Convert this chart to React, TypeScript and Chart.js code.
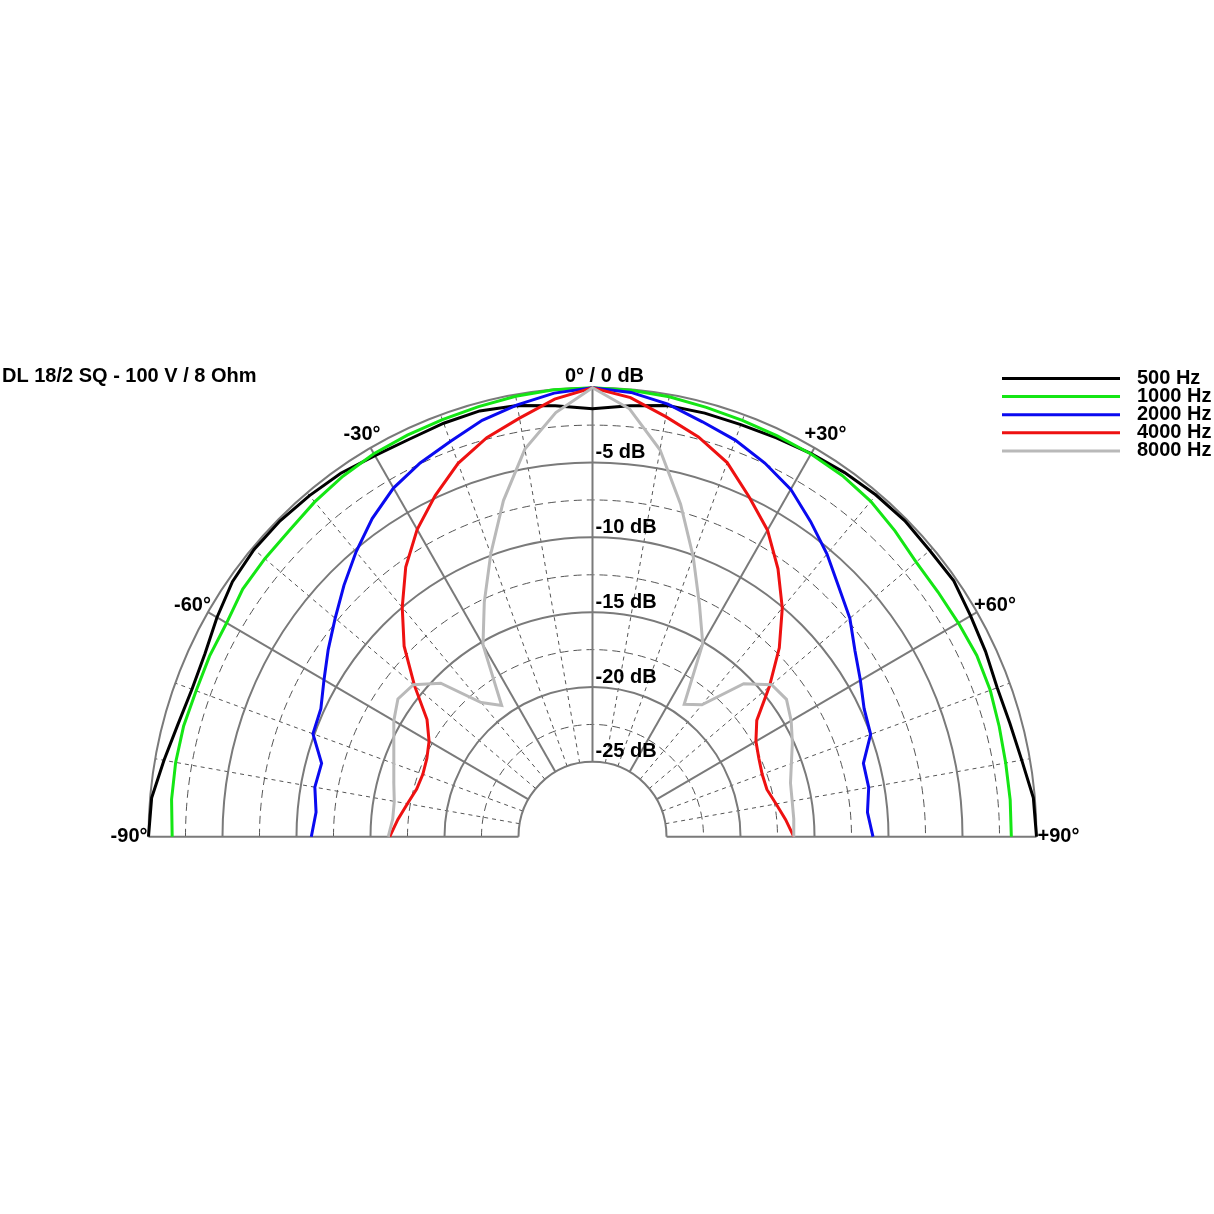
import { useEffect, useRef } from 'react';
import { Chart, registerables } from 'chart.js';

Chart.register(...registerables);

// measurement angles (degrees off axis) and level in dB, relative to 0 deg
const angles = [
  -90, -85, -80, -75, -70, -65, -60, -55, -50, -45, -40, -35, -30, -25, -20, -15, -10, -5, 0,
  5, 10, 15, 20, 25, 30, 35, 40, 45, 50, 55, 60, 65, 70, 75, 80, 85, 90,
];

const hz500 = [
  0, -0.1, -0.6, -1.0, -1.2, -1.1, -0.7, -0.3, -0.15, -0.15, -0.25, -0.35, -0.6, -0.7, -0.6, -0.55, -0.75, -1.1, -1.4,
  -1.1, -0.75, -0.7, -0.7, -0.6, -0.45, -0.3, -0.2, -0.15, -0.25, -0.2, -0.5, -0.7, -0.9, -0.8, -0.55, -0.1, 0,
];
const hz1000 = [
  -1.6, -1.45, -1.4, -1.4, -1.5, -1.45, -1.45, -1.15, -1.1, -1.05, -0.8, -0.6, -0.45, -0.4, -0.35, -0.25, -0.12, -0.03, 0,
  -0.05, -0.15, -0.3, -0.4, -0.45, -0.47, -0.55, -0.75, -1.1, -1.45, -1.5, -1.45, -1.35, -1.4, -1.55, -1.65, -1.67, -1.7,
];
const hz2000 = [
  -11.0, -11.25, -10.95, -11.05, -9.9, -9.75, -9.05, -8.2, -7.3, -6.25, -5.15, -4.05, -3.1, -2.45, -1.9, -1.2, -0.7, -0.25, 0,
  -0.2, -0.65, -1.3, -1.8, -2.45, -3.2, -4.3, -5.35, -6.45, -7.3, -8.35, -9.1, -9.75, -10.0, -11.05, -11.05, -11.35, -11.05,
];
const hz4000 = [
  -16.3, -16.8, -17.3, -17.7, -17.8, -17.65, -17.25, -16.35, -14.3, -12.0, -10.0, -8.0, -6.3, -4.85, -3.45, -2.4, -1.6, -0.65, 0,
  -0.55, -1.5, -2.35, -3.4, -4.95, -6.35, -8.15, -10.05, -12.15, -14.4, -16.45, -17.25, -17.6, -17.8, -17.8, -17.4, -16.9, -16.4,
];
const hz8000 = [
  -16.2, -16.45, -16.4, -16.1, -15.7, -15.2, -14.5, -13.95, -14.2, -15.5, -18.3, -19.3, -15.2, -12.7, -9.9, -6.75, -3.7, -1.55, 0,
  -1.3, -3.75, -7.0, -10.1, -12.9, -15.1, -19.2, -18.5, -15.55, -14.2, -14.0, -14.5, -15.1, -15.7, -16.15, -16.3, -16.35, -16.4,
];

const seriesNames = ['500 Hz', '1000 Hz', '2000 Hz', '4000 Hz', '8000 Hz'];
const seriesColors = ['#000000', '#14e614', '#0a0af0', '#ee1111', '#b9b9b9'];
const dbTicks = [-5, -10, -15, -20, -25];
const angleTicks = [-90, -60, -30, 30, 60, 90];

const title = 'DL 18/2 SQ - 100 V / 8 Ohm';
const FLOOR = -30; // level at the centre of the plot
const HOLE = -25; // nothing is drawn below this level
const FONT = 'bold 20px Arial, "Liberation Sans", Helvetica, sans-serif';

const toPoint = (deg: number, db: number) => {
  const r = db - FLOOR;
  const a = (deg * Math.PI) / 180;
  return { x: r * Math.sin(a), y: r * Math.cos(a) };
};

// draws the half-circle grid using the chart's own x/y scales
const polarGrid = {
  id: 'polarGrid',
  beforeDatasetsDraw(chart: any) {
    const { ctx } = chart;
    const xs = chart.scales.x;
    const ys = chart.scales.y;
    const cx = xs.getPixelForValue(0);
    const cy = ys.getPixelForValue(0);
    const kx = xs.getPixelForValue(1) - cx;
    const ky = cy - ys.getPixelForValue(1);
    const rIn = HOLE - FLOOR;
    const rOut = 0 - FLOOR;

    const ring = (db: number) => {
      const r = db - FLOOR;
      ctx.beginPath();
      ctx.ellipse(cx, cy, r * kx, r * ky, 0, Math.PI, 2 * Math.PI);
      ctx.stroke();
    };
    const spoke = (deg: number) => {
      const a = (deg * Math.PI) / 180;
      ctx.beginPath();
      ctx.moveTo(cx + rIn * Math.sin(a) * kx, cy - rIn * Math.cos(a) * ky);
      ctx.lineTo(cx + rOut * Math.sin(a) * kx, cy - rOut * Math.cos(a) * ky);
      ctx.stroke();
    };

    ctx.save();
    ctx.strokeStyle = '#555555';
    ctx.lineWidth = 1;
    ctx.setLineDash([8, 5]);
    for (let db = -2.5; db > HOLE; db -= 5) ring(db);
    ctx.setLineDash([4, 4]);
    for (let deg = -80; deg <= 80; deg += 10) {
      if (deg % 30 !== 0) spoke(deg);
    }
    ctx.setLineDash([]);
    ctx.strokeStyle = '#7a7a7a';
    ctx.lineWidth = 2;
    for (let db = 0; db >= HOLE; db -= 5) ring(db);
    [-90, -60, -30, 0, 30, 60, 90].forEach(spoke);
    ctx.restore();
  },
  afterDatasetsDraw(chart: any) {
    const { ctx } = chart;
    const xs = chart.scales.x;
    const ys = chart.scales.y;
    const cx = xs.getPixelForValue(0);
    const top = ys.getPixelForValue(0 - FLOOR);

    ctx.save();
    ctx.font = FONT;
    ctx.fillStyle = '#000';
    ctx.textBaseline = 'middle';

    ctx.textAlign = 'left';
    ctx.fillText(title, 2, top - 11);

    ctx.textAlign = 'center';
    ctx.fillText('0° / 0 dB', cx + 12, top - 11);

    ctx.textAlign = 'left';
    dbTicks.forEach((db) => {
      ctx.fillText(`${db} dB`, cx + 3, ys.getPixelForValue(db - FLOOR) - 10);
    });

    angleTicks.forEach((deg) => {
      const p = toPoint(deg, 0);
      const px = xs.getPixelForValue(p.x);
      const py = ys.getPixelForValue(p.y);
      const text = deg > 0 ? `+${deg}°` : `${deg}°`;
      const side = deg < 0 ? -1 : 1;
      ctx.textAlign = deg < 0 ? 'right' : 'left';
      let dx = 1;
      let dy = 0;
      if (Math.abs(deg) === 60) { dx = -3; dy = -7; }
      if (Math.abs(deg) === 30) { dx = -10; dy = -13; }
      ctx.fillText(text, px + side * dx, py + dy);
    });

    // legend
    seriesNames.forEach((name, i) => {
      const y = 378.5 + i * 18.1;
      ctx.strokeStyle = seriesColors[i];
      ctx.lineWidth = 3;
      ctx.beginPath();
      ctx.moveTo(1002, y);
      ctx.lineTo(1120, y);
      ctx.stroke();
      ctx.textAlign = 'left';
      ctx.fillText(name, 1137, y);
    });
    ctx.restore();
  },
};

export default function App() {
  const chartRef = useRef<HTMLCanvasElement>(null);
  const chartInstance = useRef<Chart | null>(null);

  useEffect(() => {
    if (!chartRef.current) return;
    if (chartInstance.current) chartInstance.current.destroy();

    const series = [hz500, hz1000, hz2000, hz4000, hz8000];
    const datasets = series.map((values, i) => ({
      label: seriesNames[i],
      data: angles.map((deg, j) => toPoint(deg, values[j])),
      showLine: true,
      borderColor: seriesColors[i],
      backgroundColor: seriesColors[i],
      borderWidth: 3,
      pointRadius: 0,
      tension: 0,
      clip: false as const,
      order: 5 - i,
    }));

    chartInstance.current = new Chart(chartRef.current, {
      type: 'scatter',
      data: { datasets },
      options: {
        animation: false,
        responsive: false,
        devicePixelRatio: 1,
        layout: {
          padding: { left: 148.5, right: 177.5, top: 387.7, bottom: 377.3 },
        },
        scales: {
          x: { type: 'linear', min: -30, max: 30, display: false },
          y: { type: 'linear', min: 0, max: 30, display: false },
        },
        plugins: {
          legend: { display: false },
          tooltip: { enabled: false },
        },
      },
      plugins: [polarGrid],
    });

    return () => {
      if (chartInstance.current) {
        chartInstance.current.destroy();
        chartInstance.current = null;
      }
    };
  }, []);

  return (
    <div style={{ position: 'absolute', left: 0, top: 0, width: 1214, height: 1214, background: '#fff' }}>
      <canvas ref={chartRef} width={1214} height={1214} />
    </div>
  );
}
